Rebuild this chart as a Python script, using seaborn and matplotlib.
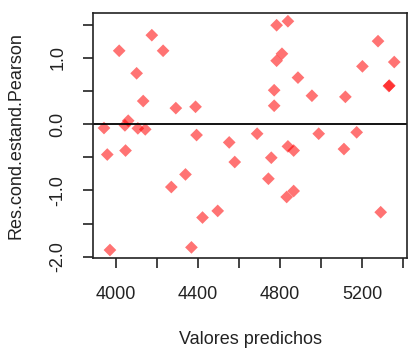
import pandas as pd
import matplotlib
matplotlib.use("Agg")
import matplotlib.pyplot as plt
import seaborn as sns

# predicted values vs standardized conditional Pearson residuals
predichos = [3942, 4016, 4175, 4230, 4101, 4133, 4292, 4388, 4060, 4044, 4107, 4143,
             4783, 4838, 4809, 4783, 4887, 4771, 4771, 4955, 5118, 5277, 5201, 5356,
             5330, 5332, 3958, 4047, 4393, 4552, 4579, 4688, 4757, 4743, 4838, 4866,
             4832, 4866, 4988, 5111, 5173, 5290, 4270, 4339, 4422, 4496, 3971, 4368]
residuos = [-0.06, 1.105, 1.34, 1.105, 0.765, 0.347, 0.24, 0.26, 0.05, -0.02, -0.065, -0.08,
            1.49, 1.55, 1.06, 0.955, 0.70, 0.51, 0.276, 0.427, 0.41, 1.25, 0.87, 0.935,
            0.573, 0.58, -0.46, -0.40, -0.166, -0.277, -0.573, -0.146, -0.508, -0.825, -0.337, -0.40,
            -1.10, -1.01, -0.146, -0.377, -0.125, -1.33, -0.95, -0.76, -1.41, -1.31, -1.90, -1.86]

x_ticks = [4000, 4400, 4800, 5200]
y_ticks = [-2.0, -1.0, 0.0, 1.0]

df = pd.DataFrame({"pred": predichos, "res": residuos})

sns.set_style("ticks")
plt.rcParams["font.family"] = ["Liberation Sans", "DejaVu Sans"]

fig = plt.figure(figsize=(4.10, 3.51), dpi=100)
ax = fig.add_axes([0.2276, 0.265, 0.765, 0.699])

sns.scatterplot(data=df, x="pred", y="res", ax=ax, marker="D", s=42,
                color="#ff0000", alpha=0.55, edgecolor="none")
ax.axhline(0, color="black", lw=1.3)

ax.set_xlim(3890, 5418)
ax.set_ylim(-2.02, 1.68)
ax.set_xticks(x_ticks)
ax.set_xticks([4200, 4600, 5000, 5400], minor=True)
ax.set_yticks(y_ticks)
ax.set_yticks([-1.5, -0.5, 0.5, 1.5], minor=True)
ax.set_xticklabels([str(v) for v in x_ticks])
ax.set_yticklabels(["%.1f" % v for v in y_ticks], rotation=90, va="center")

for side in ["top", "right", "left", "bottom"]:
    ax.spines[side].set_visible(True)
    ax.spines[side].set_color("#222222")
    ax.spines[side].set_linewidth(1.2)

ax.tick_params(which="both", length=7.5, width=1.2, color="#222222",
               labelsize=13, labelcolor="#222222")
ax.tick_params(axis="x", pad=13)
ax.tick_params(axis="y", pad=12)
ax.set_xlabel("Valores predichos", fontsize=13, color="#222222", labelpad=20)
ax.set_ylabel("Res.cond.estand.Pearson", fontsize=13, color="#222222", labelpad=18)

fig.savefig("out.png", dpi=100)
